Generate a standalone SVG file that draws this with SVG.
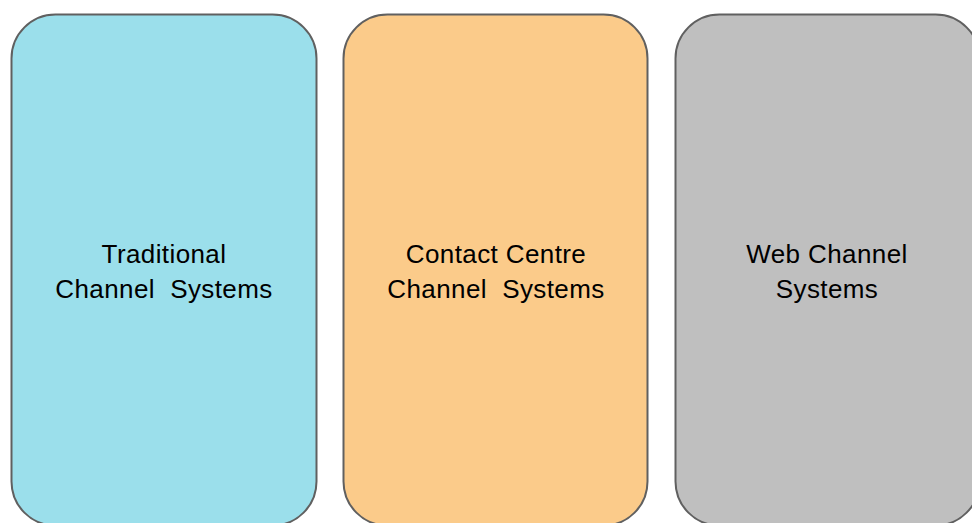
<svg xmlns="http://www.w3.org/2000/svg" width="972" height="523" viewBox="0 0 972 523">
<style>
.box{stroke:#606060;stroke-width:2}
.lbl{font-family:"Liberation Sans",Arial,sans-serif;font-size:26px;fill:#000;text-anchor:middle;white-space:pre;letter-spacing:0.4px}
</style>
<rect width="972" height="523" fill="#ffffff"/>
<g id="traditional">
<rect class="box" x="11.5" y="14.5" width="305" height="511" rx="44" ry="44" fill="#9BDFEB"/>
<text class="lbl" x="164" y="263" xml:space="preserve">Traditional</text>
<text class="lbl" x="164" y="298" xml:space="preserve">Channel  Systems</text>
</g>
<g id="contact-centre">
<rect class="box" x="343.5" y="14.5" width="304" height="511" rx="44" ry="44" fill="#FBCB8A"/>
<text class="lbl" x="496" y="263" xml:space="preserve">Contact Centre</text>
<text class="lbl" x="496" y="298" xml:space="preserve">Channel  Systems</text>
</g>
<g id="web-channel">
<rect class="box" x="675.5" y="14.5" width="304" height="511" rx="44" ry="44" fill="#BFBFBF"/>
<text class="lbl" x="827" y="263" xml:space="preserve">Web Channel</text>
<text class="lbl" x="827" y="298" xml:space="preserve">Systems</text>
</g>
<g id="connectors"></g>
</svg>
